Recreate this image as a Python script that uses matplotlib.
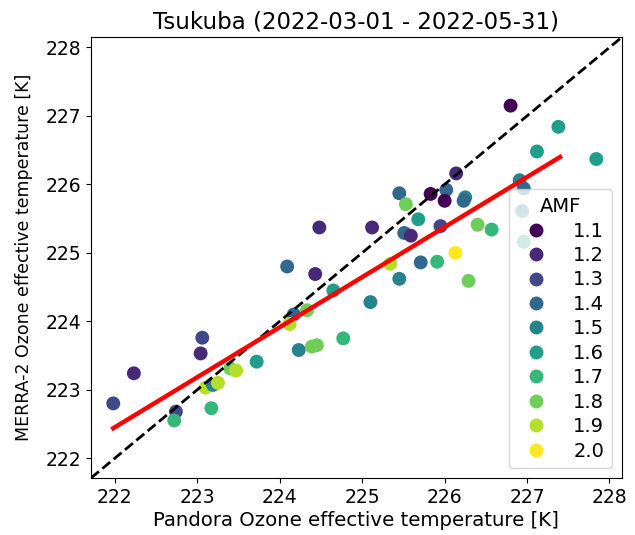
import matplotlib
matplotlib.use("Agg")
import matplotlib.pyplot as plt
from matplotlib.lines import Line2D
import numpy as np

title = "Tsukuba (2022-03-01 - 2022-05-31)"
xlabel = "Pandora Ozone effective temperature [K]"
ylabel = "MERRA-2 Ozone effective temperature [K]"

pandora_t = [221.98, 222.23, 223.06, 223.04, 222.74, 222.72, 223.17, 223.10, 223.19, 223.25,
             223.40, 223.47, 223.72, 224.09, 224.43, 224.65, 224.17, 224.33, 224.12, 224.23,
             224.39, 224.45, 224.77, 225.10, 225.34, 225.45, 225.71, 224.48, 225.12, 227.12,
             226.14, 225.45, 225.83, 226.02, 226.00, 226.25, 226.23, 225.53, 225.68, 225.51,
             225.59, 225.95, 226.40, 226.57, 226.13, 225.91, 226.29, 226.80, 227.38, 227.84,
             226.91, 226.96, 226.94, 226.96]
merra_t = [222.80, 223.24, 223.76, 223.53, 222.68, 222.55, 222.73, 223.03, 223.07, 223.10,
           223.31, 223.28, 223.41, 224.80, 224.69, 224.45, 224.10, 224.16, 223.96, 223.58,
           223.63, 223.65, 223.75, 224.28, 224.84, 224.62, 224.86, 225.37, 225.37, 226.48,
           226.16, 225.87, 225.86, 225.92, 225.76, 225.81, 225.76, 225.71, 225.49, 225.29,
           225.25, 225.39, 225.41, 225.34, 225.00, 224.87, 224.59, 227.15, 226.84, 226.37,
           226.06, 225.94, 225.61, 225.16]
amf = [1.3, 1.2, 1.3, 1.2, 1.3, 1.7, 1.7, 1.9, 1.5, 1.9,
       1.8, 1.9, 1.6, 1.4, 1.2, 1.6, 1.4, 1.8, 1.9, 1.5,
       1.8, 1.8, 1.7, 1.5, 1.9, 1.5, 1.4, 1.2, 1.2, 1.6,
       1.2, 1.4, 1.1, 1.4, 1.1, 1.5, 1.4, 1.8, 1.6, 1.4,
       1.2, 1.3, 1.8, 1.7, 2.0, 1.7, 1.8, 1.1, 1.6, 1.6,
       1.5, 1.4, 1.5, 1.6]
amf_levels = [1.1, 1.2, 1.3, 1.4, 1.5, 1.6, 1.7, 1.8, 1.9, 2.0]

fit_slope = 0.731
fit_intercept = 60.17
fit_x_range = [221.98, 227.40]
axis_range = [221.71, 228.15]
ticks = [222, 223, 224, 225, 226, 227, 228]

FS = 13.5
plt.rcParams['font.size'] = FS

fig = plt.figure(figsize=(6.35, 5.35), dpi=100)
ax = fig.add_axes([0.1433, 0.1065, 0.836, 0.824])

cmap = plt.get_cmap('viridis')
norm = plt.Normalize(vmin=min(amf_levels), vmax=max(amf_levels))

ax.scatter(pandora_t, merra_t, c=amf, cmap=cmap, norm=norm, s=100, edgecolors='none', zorder=2)

ax.plot(axis_range, axis_range, 'k--', lw=2, zorder=3)
fx = np.array(fit_x_range)
ax.plot(fx, fit_slope * fx + fit_intercept, color='red', lw=3.2, zorder=4)

ax.set_xlim(axis_range)
ax.set_ylim(axis_range)
ax.set_xticks(ticks)
ax.set_yticks(ticks)
ax.tick_params(labelsize=FS)
ax.set_xlabel(xlabel, fontsize=14.2, labelpad=3)
ax.set_ylabel(ylabel, fontsize=12.5, labelpad=9)
ax.set_title(title, fontsize=16.5, pad=6)

handles = [Line2D([], [], marker='o', linestyle='none', markersize=10,
                  markerfacecolor=cmap(norm(v)), markeredgecolor='none')
           for v in amf_levels]
labels = [f"{v:.1f}" for v in amf_levels]
leg = ax.legend(handles, labels, title="AMF", loc='lower right', fontsize=14,
                title_fontsize=14, labelspacing=0.28, handletextpad=0.9)
leg.set_zorder(5)

fig.savefig("out.png", dpi=100)
